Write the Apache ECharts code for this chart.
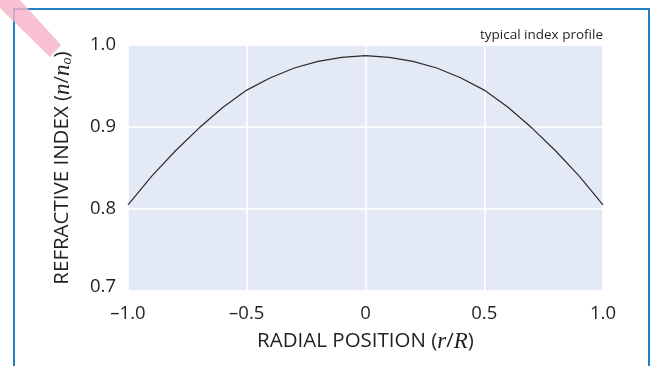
<!DOCTYPE html>
<html>
<head>
<meta charset="utf-8">
<script src="https://cdn.jsdelivr.net/npm/echarts@6/dist/echarts.min.js"></script>
<style>
  html, body { margin: 0; padding: 0; background: #fff; }
  #chart { width: 654px; height: 366px; }
</style>
</head>
<body>
<div id="chart"></div>
<script>
// radial position r/R and normalised refractive index n/n0
const radialPos = [-1.0, -0.9, -0.8, -0.7, -0.6, -0.5, -0.4, -0.3, -0.2, -0.1, 0,
  0.1, 0.2, 0.3, 0.4, 0.5, 0.6, 0.7, 0.8, 0.9, 1.0];
const indexVals = [0.805, 0.840, 0.871, 0.899, 0.924, 0.945, 0.960, 0.972, 0.980, 0.985, 0.987,
  0.985, 0.980, 0.972, 0.960, 0.945, 0.924, 0.899, 0.871, 0.840, 0.805];
const xTickLabels = { "-1": "\u20131.0", "-0.5": "\u20130.5", "0": "0", "0.5": "0.5", "1": "1.0" };
const yTickLabels = { "0.7": "0.7", "0.8": "0.8", "0.9": "0.9", "1": "1.0" };

const FONT = "Open Sans";
const SERIF = "Liberation Serif";
const TEXT = "#231f20";
const PLOT_BG = "#e4eaf5";
const FRAME = "#1f80c6";

const chart = echarts.init(document.getElementById("chart"), null, { renderer: "canvas" });

chart.setOption({
  animation: false,
  backgroundColor: "#fff",
  title: {
    text: "typical index profile",
    right: 51,
    top: 28,
    padding: 0,
    textStyle: { fontFamily: FONT, fontSize: 13.5, fontWeight: "normal", color: TEXT },
  },
  grid: {
    left: 128, right: 51, top: 45, bottom: 75,
    show: true, backgroundColor: PLOT_BG, borderWidth: 0,
  },
  xAxis: {
    type: "value",
    min: -1, max: 1, interval: 0.5,
    axisLine: { show: false },
    axisTick: { show: false },
    splitLine: { lineStyle: { color: "#fff", width: 1.5 } },
    axisLabel: {
      margin: 13,
      fontFamily: FONT, fontSize: 18.5, color: TEXT,
      formatter: (v) => xTickLabels[String(v)] ?? "",
    },
    name: "{t|RADIAL POSITION (}{i|r}{t|/}{i|R}{t|)}",
    nameLocation: "middle",
    nameGap: 39,
    nameTextStyle: {
      rich: {
        t: { fontFamily: FONT, fontSize: 20.5, color: TEXT },
        i: { fontFamily: SERIF, fontStyle: "italic", fontSize: 23, color: TEXT },
      },
    },
  },
  yAxis: {
    type: "value",
    min: 0.7, max: 1.0, interval: 0.1,
    axisLine: { show: false },
    axisTick: { show: false },
    splitLine: { lineStyle: { color: "#fff", width: 1.5 } },
    axisLabel: {
      margin: 12,
      fontFamily: FONT, fontSize: 18.5, color: TEXT,
      formatter: (v) => {
        const s = yTickLabels[String(+v.toFixed(2))] ?? "";
        return v < 0.75 ? "{lo|" + s + "}" : s;
      },
      rich: { lo: { fontFamily: FONT, fontSize: 18.5, color: TEXT, padding: [0, 0, 9, 0] } },
    },
    name: "{t|REFRACTIVE INDEX (}{i|n}{t|/}{i|n}{s|o}{t|)}",
    nameLocation: "middle",
    nameGap: 54,
    nameRotate: 90,
    nameTextStyle: {
      rich: {
        t: { fontFamily: FONT, fontSize: 20.5, color: TEXT },
        i: { fontFamily: SERIF, fontStyle: "italic", fontSize: 23, color: TEXT },
        s: { fontFamily: SERIF, fontStyle: "italic", fontSize: 14, color: TEXT, padding: [9, 0, 0, 0] },
      },
    },
  },
  series: [
    {
      type: "line",
      data: radialPos.map((r, i) => [r, indexVals[i]]),
      showSymbol: false,
      lineStyle: { color: "#2b2b2b", width: 1.2 },
    },
  ],
  graphic: [
    // blue frame around the figure
    {
      type: "rect",
      shape: { x: 14, y: 9, width: 635, height: 380 },
      style: { fill: "none", stroke: FRAME, lineWidth: 2 },
      z: 10,
    },
    // pink corner ribbon
    {
      type: "polygon",
      shape: { points: [[20, 0], [61, 45], [50, 57], [0, 8], [0, 0]] },
      style: { fill: "rgba(246, 178, 198, 0.82)" },
      z: 11,
    },
  ],
});
</script>
</body>
</html>
